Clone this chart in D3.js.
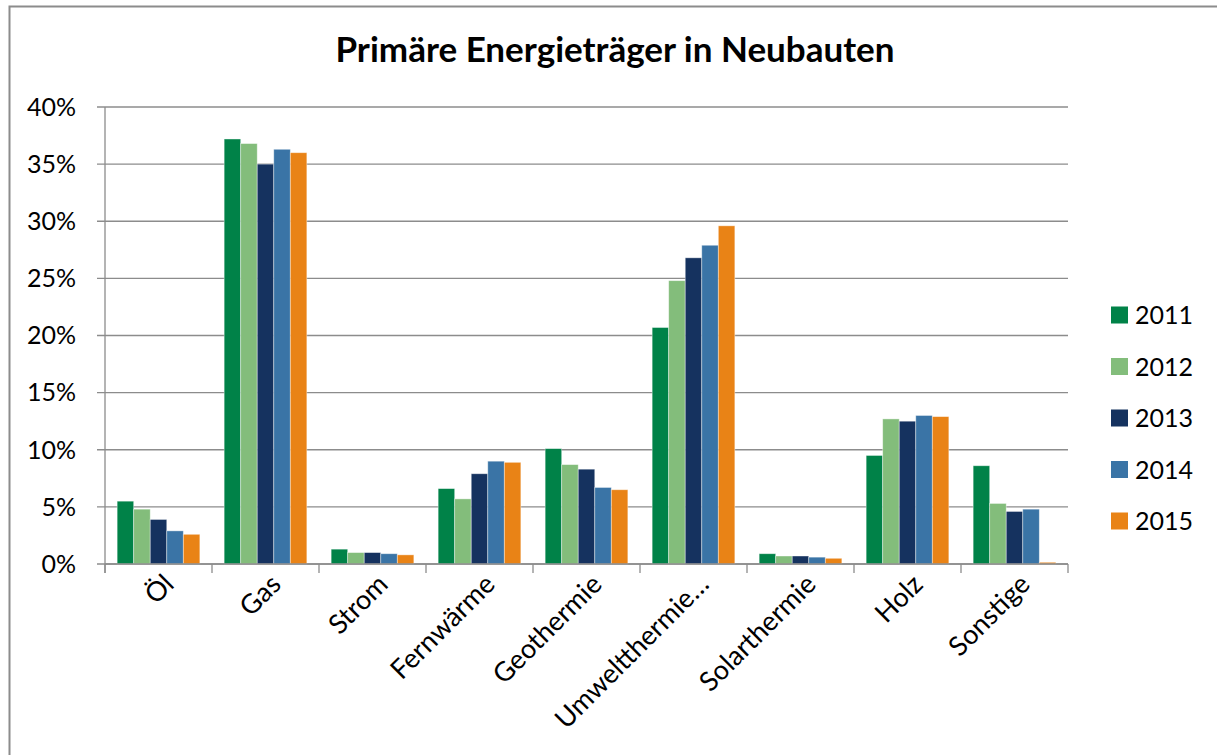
<!DOCTYPE html>
<html>
<head>
<meta charset="utf-8">
<script src="https://cdn.jsdelivr.net/npm/d3@7"></script>
<style>
  body { margin: 0; background: #fff; }
  svg { font-family: Lato, "Open Sans", sans-serif; }
</style>
</head>
<body>
<svg id="chart" width="1217" height="755"></svg>
<script>
/* Data */
var categories = ['Öl', 'Gas', 'Strom', 'Fernwärme', 'Geothermie', 'Umweltthermie…', 'Solarthermie', 'Holz', 'Sonstige'];
var years = ['2011', '2012', '2013', '2014', '2015'];
var v2011 = [5.5, 37.2, 1.3, 6.6, 10.1, 20.7, 0.9, 9.5, 8.6];
var v2012 = [4.8, 36.8, 1.0, 5.7, 8.7, 24.8, 0.7, 12.7, 5.3];
var v2013 = [3.9, 35.0, 1.0, 7.9, 8.3, 26.8, 0.7, 12.5, 4.6];
var v2014 = [2.9, 36.3, 0.9, 9.0, 6.7, 27.9, 0.6, 13.0, 4.8];
var v2015 = [2.6, 36.0, 0.8, 8.9, 6.5, 29.6, 0.5, 12.9, 0.15];
var yTicks = [0, 5, 10, 15, 20, 25, 30, 35, 40];
var colors = ['#008248', '#83bd7b', '#15325f', '#3a74a6', '#e98316'];

var series = [v2011, v2012, v2013, v2014, v2015];

var svg = d3.select('#chart'),
    margin = {top: 107, left: 105, right: 150, bottom: 191},
    width = 1068 - margin.left,
    height = 564 - margin.top;

/* Chart border */
svg.append('rect')
    .attr('x', 9.5).attr('y', 6.5)
    .attr('width', 1300).attr('height', 900)
    .attr('fill', 'none').attr('stroke', '#8c8c8c').attr('stroke-width', 2);

/* Title */
svg.append('text')
    .attr('x', 615).attr('y', 62)
    .attr('text-anchor', 'middle')
    .attr('font-size', 35).attr('font-weight', 'bold')
    .text('Primäre Energieträger in Neubauten');

var x0 = d3.scaleBand().domain(categories).range([0, width]).paddingInner(0.227).paddingOuter(0.1135),
    x1 = d3.scaleBand().domain(years).range([0, x0.bandwidth()]),
    y = d3.scaleLinear().domain([0, 40]).range([height, 0]);

var g = svg.append('g')
    .attr('transform', 'translate(' + margin.left + ',' + margin.top + ')');

/* Gridlines */
g.append('g')
    .selectAll('line')
    .data(yTicks)
    .enter().append('line')
      .attr('x1', -8).attr('x2', width)
      .attr('y1', function(d) { return y(d); })
      .attr('y2', function(d) { return y(d); })
      .attr('stroke', '#8c8c8c').attr('stroke-width', 1.3);

/* Y labels */
g.append('g')
    .selectAll('text')
    .data(yTicks)
    .enter().append('text')
      .attr('x', -29)
      .attr('y', function(d) { return y(d); })
      .attr('dy', '0.35em')
      .attr('text-anchor', 'end')
      .attr('font-size', 25)
      .text(function(d) { return d + '%'; });

/* Bars */
var groups = g.selectAll('.grp')
    .data(categories)
    .enter().append('g')
      .attr('class', 'grp')
      .attr('transform', function(d) { return 'translate(' + x0(d) + ',0)'; });

groups.selectAll('rect')
    .data(function(d, i) { return years.map(function(yr, j) { return {yr: yr, v: series[j][i], c: colors[j]}; }); })
    .enter().append('rect')
      .attr('x', function(d) { return x1(d.yr); })
      .attr('y', function(d) { return y(d.v); })
      .attr('width', x1.bandwidth())
      .attr('height', function(d) { return height - y(d.v); })
      .attr('fill', function(d) { return d.c; })
      .attr('stroke', '#ffffff').attr('stroke-opacity', 0.5).attr('stroke-width', 0.8);

/* Axes lines */
g.append('line')
    .attr('x1', 0).attr('x2', 0).attr('y1', 0).attr('y2', height + 9)
    .attr('stroke', '#8c8c8c').attr('stroke-width', 1.3);
g.append('line')
    .attr('x1', 0).attr('x2', width).attr('y1', height).attr('y2', height)
    .attr('stroke', '#8c8c8c').attr('stroke-width', 1.3);
g.append('g')
    .selectAll('line')
    .data(d3.range(categories.length + 1))
    .enter().append('line')
      .attr('x1', function(i) { return i * x0.step(); })
      .attr('x2', function(i) { return i * x0.step(); })
      .attr('y1', height).attr('y2', height + 9)
      .attr('stroke', '#8c8c8c').attr('stroke-width', 1.3);

/* Category labels */
g.append('g')
    .selectAll('text')
    .data(categories)
    .enter().append('text')
      .attr('transform', function(d) {
        return 'translate(' + (x0(d) + x0.bandwidth() / 2 + 17) + ',' + (height + 22) + ') rotate(-45)';
      })
      .attr('text-anchor', 'end')
      .attr('font-size', 27)
      .text(function(d) { return d; });

/* Legend */
var legend = svg.append('g')
    .selectAll('g')
    .data(years)
    .enter().append('g')
      .attr('transform', function(d, i) { return 'translate(1111,' + (315 + i * 51.5) + ')'; });

legend.append('rect')
    .attr('x', 0).attr('y', -8.5)
    .attr('width', 17).attr('height', 17)
    .attr('fill', function(d, i) { return colors[i]; });

legend.append('text')
    .attr('x', 24).attr('dy', '0.36em')
    .attr('font-size', 25)
    .text(function(d) { return d; });
</script>
</body>
</html>
